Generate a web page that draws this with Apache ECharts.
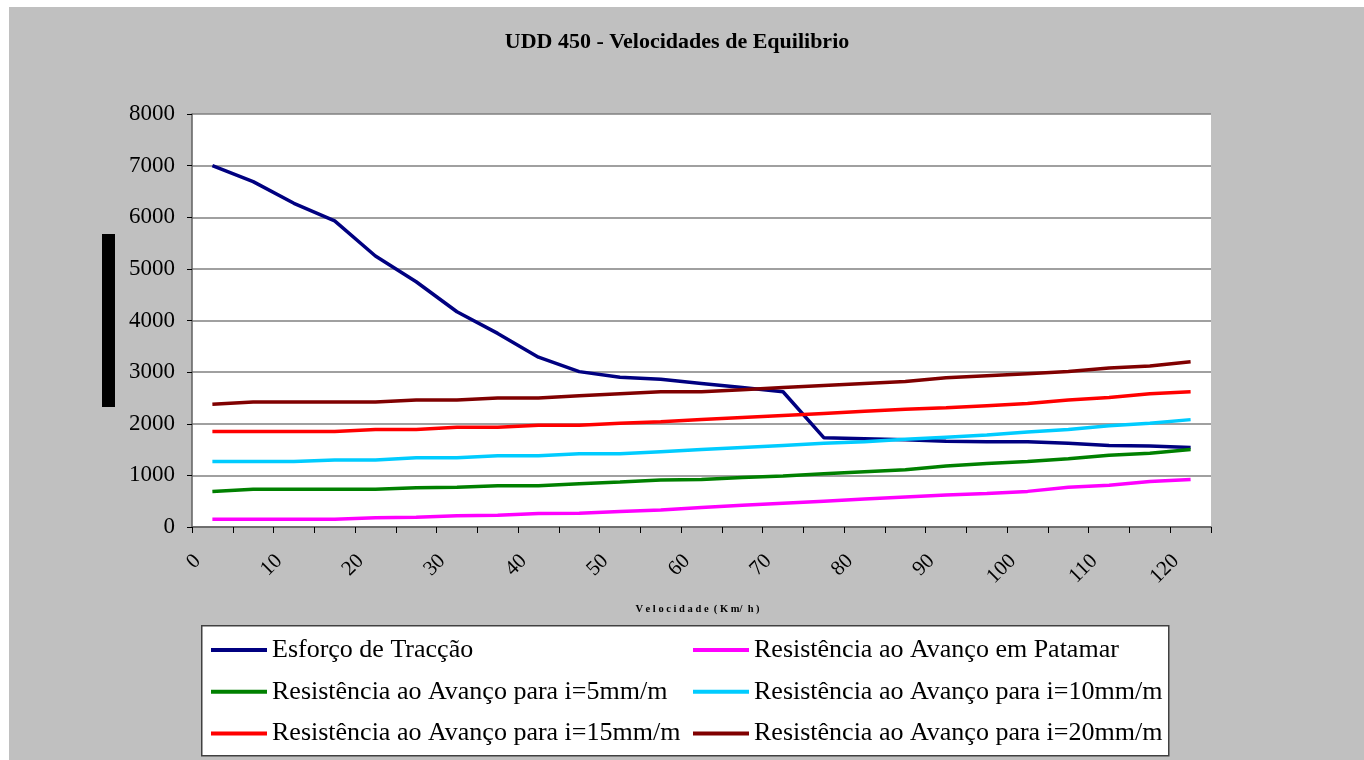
<!DOCTYPE html>
<html>
<head>
<meta charset="utf-8">
<script src="https://cdn.jsdelivr.net/npm/echarts@6/dist/echarts.min.js"></script>
<style>
html,body{margin:0;padding:0;background:#fff;}
#c{position:absolute;left:9px;top:7px;width:1355px;height:753px;background:#C0C0C0;}
</style>
</head>
<body>
<div id="c"></div>
<script>
const categories = ['0','5','10','15','20','25','30','35','40','45','50','55','60','65','70','75','80','85','90','95','100','105','110','115','120'];
const esforcoTraccao = [7000,6690,6270,5930,5250,4750,4170,3750,3290,3010,2900,2860,2780,2700,2620,1730,1710,1690,1660,1650,1650,1620,1580,1570,1540];
const resPatamar = [150,150,150,150,180,190,220,230,260,265,300,330,380,420,460,500,540,580,620,650,690,770,810,880,920];
const res5 = [690,730,730,730,730,760,770,800,800,840,870,910,920,960,990,1030,1070,1110,1180,1230,1270,1320,1390,1430,1500];
const res10 = [1270,1270,1270,1300,1300,1340,1340,1380,1380,1420,1420,1460,1500,1540,1580,1620,1650,1700,1740,1780,1840,1890,1960,2010,2080];
const res15 = [1850,1850,1850,1850,1890,1890,1930,1930,1970,1970,2010,2040,2080,2120,2160,2200,2240,2280,2310,2350,2390,2460,2510,2580,2620];
const res20 = [2380,2420,2420,2420,2420,2460,2460,2500,2500,2540,2580,2620,2620,2660,2700,2740,2780,2820,2890,2930,2970,3010,3080,3120,3200];
const seriesNames = ['Esforço de Tracção','Resistência ao Avanço em Patamar','Resistência ao Avanço para i=5mm/m','Resistência ao Avanço para i=10mm/m','Resistência ao Avanço para i=15mm/m','Resistência ao Avanço para i=20mm/m'];
const seriesData = [esforcoTraccao,resPatamar,res5,res10,res15,res20];
const colors = ['#000080','#FF00FF','#008000','#00CCFF','#FF0000','#800000'];
const titleText = 'UDD 450 - Velocidades de Equilibrio';
const xName = 'V e l o c i d a d e  ( K m/  h )';

const serif = "'Liberation Serif','Times New Roman',serif";
const chart = echarts.init(document.getElementById('c'));
const series = seriesNames.map((n,i)=>({
  name:n, type:'line', data:seriesData[i], symbol:'none', smooth:false,
  lineStyle:{color:colors[i], width:3.5}, itemStyle:{color:colors[i]}
}));
const legendCommon = {
  orient:'vertical', itemWidth:56, itemHeight:4, itemGap:13.7,
  icon:'rect',
  textStyle:{fontFamily:serif, fontSize:26, color:'#000', lineHeight:28},
  selectedMode:false
};
chart.setOption({
  animation:false,
  color:colors,
  title:{text:titleText, left:663, top:19, textAlign:'center',
    textStyle:{fontFamily:serif, fontSize:22, fontWeight:'bold', color:'#000'}},
  grid:{left:183, right:153, top:107, bottom:233, show:true, backgroundColor:'#fff', borderWidth:0},
  xAxis:{type:'category', data:categories, boundaryGap:true,
    axisLine:{lineStyle:{color:'#606060', width:1.5}},
    axisTick:{show:true, interval:0, length:6, lineStyle:{color:'#000'}},
    axisLabel:{interval:1, rotate:45, margin:16, padding:[0,21,0,0], fontFamily:serif, fontSize:21, color:'#000'},
    splitLine:{show:false}},
  yAxis:{type:'value', min:0, max:8000, interval:1000,
    axisLine:{show:true, lineStyle:{color:'#606060', width:1.5}},
    axisTick:{show:true, length:5, lineStyle:{color:'#000'}},
    axisLabel:{margin:17, fontFamily:serif, fontSize:23, color:'#000', formatter:(v)=>String(v)},
    splitLine:{show:true, lineStyle:{color:'#808080', width:1.5}}},
  legend:[
    Object.assign({}, legendCommon, {left:197, top:624, data:[seriesNames[0],seriesNames[2],seriesNames[4]]}),
    Object.assign({}, legendCommon, {left:679, top:624, data:[seriesNames[1],seriesNames[3],seriesNames[5]]})
  ],
  graphic:[
    {type:'rect', left:192, top:618, shape:{width:967, height:130}, style:{fill:'#fff', stroke:'#404040', lineWidth:1.5}, z:-1},
    {type:'rect', left:93, top:227, shape:{width:13, height:173}, style:{fill:'#000'}},
    {type:'text', x:688.5, y:602, style:{text:xName, align:'center', verticalAlign:'middle', font:"bold 10.5px 'Liberation Serif', serif", fill:'#000'}}
  ],
  series:series
});
</script>
</body>
</html>
